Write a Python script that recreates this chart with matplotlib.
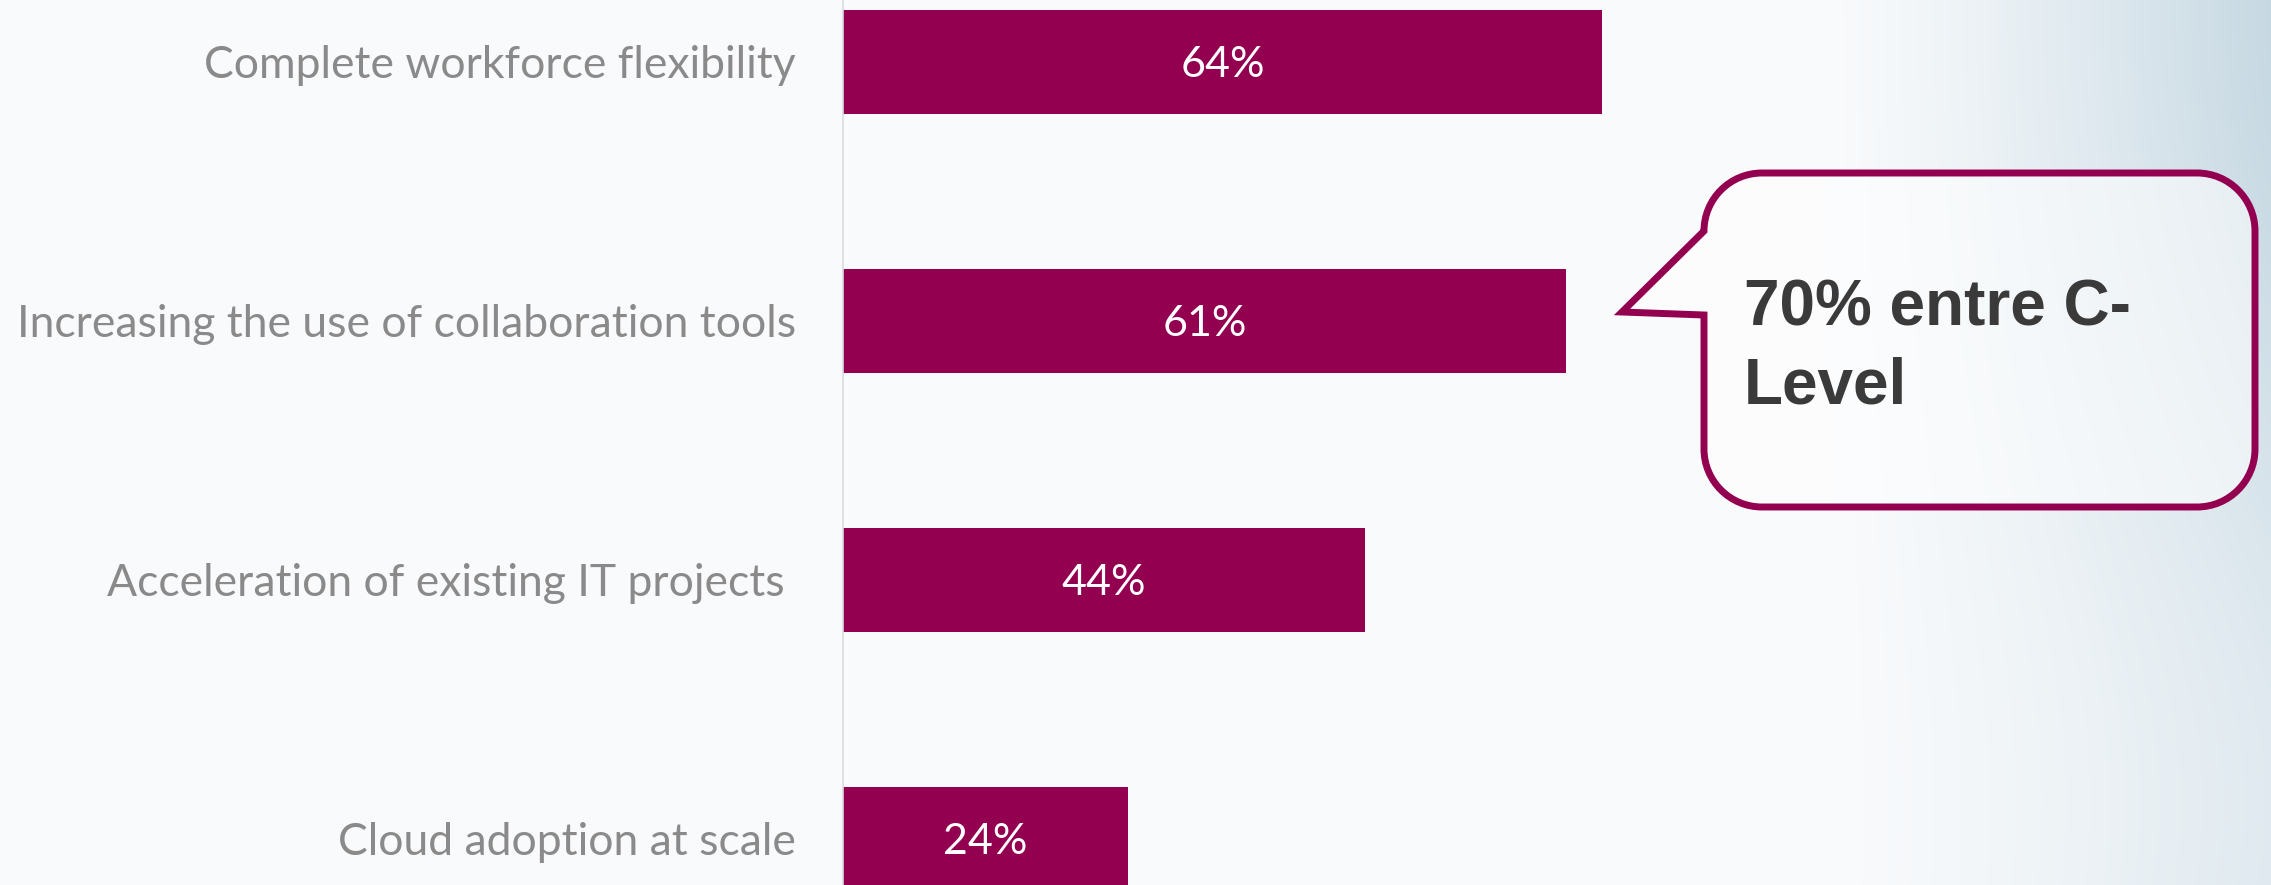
import numpy as np
import matplotlib
matplotlib.use("Agg")
import matplotlib.pyplot as plt
from matplotlib.path import Path
from matplotlib.patches import PathPatch

# ---- data ----
categories = ["Complete workforce flexibility",
              "Increasing the use of collaboration tools",
              "Acceleration of existing IT projects ",
              "Cloud adoption at scale"]
values = [64, 61, 44, 24]
value_labels = ["64%", "61%", "44%", "24%"]
callout_lines = ["70% entre C-", "Level"]

BAR = "#92004f"
W, H = 2271, 885

fig = plt.figure(figsize=(W / 100, H / 100), dpi=100)

# ---- soft background ----
bg = fig.add_axes([0, 0, 1, 1], zorder=-5)
ny, nx = 200, 500
xx, yy = np.meshgrid(np.linspace(0, 1, nx), np.linspace(0, 1, ny))
base = np.array([0.978, 0.984, 0.990])
tint = np.array([0.78, 0.85, 0.89])
w = np.clip((xx - 0.80) / 0.20, 0, 1) ** 1.3
w *= (0.75 + 0.25 * np.cos(np.pi * yy * 1.1))
w = np.clip(w, 0, 1)
img = base[None, None, :] * (1 - w[..., None]) + tint[None, None, :] * w[..., None]
bg.imshow(img, aspect="auto", extent=[0, 1, 1, 0], interpolation="bilinear")
bg.set_axis_off()

# ---- bars ----
ax = fig.add_axes([843 / W, 0, (W - 843) / W, 1])
ax.patch.set_alpha(0)
y = np.arange(len(categories))
ax.barh(y, values, height=0.4, color=BAR, zorder=2)
ax.set_ylim(3.178, -0.239)
ax.set_xlim(0, (W - 843) / 11.86)
ax.set_yticks(y)
ax.set_yticklabels(categories, fontsize=32, color="#8a8a8a", family="Lato")
ax.tick_params(axis="y", length=0, pad=33.8)
ax.set_xticks([])
for s in ["top", "right", "bottom"]:
    ax.spines[s].set_visible(False)
ax.spines["left"].set_color("#d8dcdf")
ax.spines["left"].set_linewidth(1.2)

for yi, v, lab in zip(y, values, value_labels):
    ax.text(v / 2, yi, lab, ha="center", va="center_baseline", color="white",
            fontsize=31, family="Lato", zorder=3)

# ---- callout bubble (pixel coords, y from top) ----
L, R, T, B, r = 1704, 2255, 173, 507, 58
k = 0.5523 * r
tip = (1622, 312)
def P(x, yv):
    return (x / W, 1 - yv / H)
verts = [P(L, T + r), P(*tip), P(L, 315), P(L, B - r),
         P(L, B - r + k), P(L + r - k, B), P(L + r, B),
         P(R - r, B),
         P(R - r + k, B), P(R, B - r + k), P(R, B - r),
         P(R, T + r),
         P(R, T + r - k), P(R - r + k, T), P(R - r, T),
         P(L + r, T),
         P(L + r - k, T), P(L, T + r - k), P(L, T + r),
         P(L, T + r)]
codes = [Path.MOVETO, Path.LINETO, Path.LINETO, Path.LINETO,
         Path.CURVE4, Path.CURVE4, Path.CURVE4,
         Path.LINETO,
         Path.CURVE4, Path.CURVE4, Path.CURVE4,
         Path.LINETO,
         Path.CURVE4, Path.CURVE4, Path.CURVE4,
         Path.LINETO,
         Path.CURVE4, Path.CURVE4, Path.CURVE4,
         Path.CLOSEPOLY]
patch = PathPatch(Path(verts, codes), transform=fig.transFigure,
                  facecolor=(1, 1, 1, 0.55), edgecolor=BAR, linewidth=5.0,
                  joinstyle="miter", zorder=10)
fig.patches.append(patch)

fig.text(1744 / W, 1 - 326 / H, callout_lines[0], fontsize=46, fontweight="bold",
         family="Liberation Sans", color="#3a3a3a", va="baseline", ha="left", zorder=11)
fig.text(1744 / W, 1 - 403 / H, callout_lines[1], fontsize=46, fontweight="bold",
         family="Liberation Sans", color="#3a3a3a", va="baseline", ha="left", zorder=11)

fig.savefig("out.png", dpi=100)
